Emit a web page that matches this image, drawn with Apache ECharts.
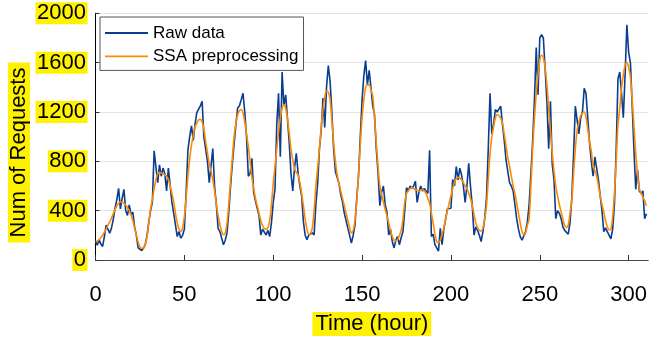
<!DOCTYPE html>
<html>
<head>
<meta charset="utf-8">
<script src="https://cdn.jsdelivr.net/npm/echarts@6/dist/echarts.min.js"></script>
<style>
html,body{margin:0;padding:0;background:#fff;}
#chart{width:650px;height:341px;}
</style>
</head>
<body>
<div id="chart"></div>
<script>
// Hourly request counts, hour 0 .. 310
var rawData = [
150,120,165,130,110,190,283,250,217,260,
330,420,490,581,415,500,573,400,362,446,
370,388,270,200,98,90,77,95,124,200,
309,400,467,885,880,626,771,679,745,700,
560,745,745,467,380,283,190,230,177,200,
250,547,890,1000,1088,969,1100,1194,1200,1250,
1286,996,1000,800,626,640,903,600,450,256,
230,217,124,160,220,388,600,780,943,1100,
1233,1250,1300,1352,1200,996,679,700,824,547,
480,420,362,203,250,240,203,240,190,300,
467,573,1100,1352,837,1524,1250,1339,1150,950,
700,560,750,864,705,600,520,309,200,164,
203,190,220,203,450,620,900,1050,1313,1075,
1400,1577,1450,1200,900,718,720,620,530,470,
380,320,256,200,137,200,283,500,679,1000,
1300,1497,1616,1420,1537,1400,1250,1180,900,705,
441,550,600,450,388,203,250,150,98,160,
190,124,180,230,400,586,560,600,580,600,
639,467,550,600,560,580,573,540,890,190,
210,124,110,71,256,124,250,330,415,400,
420,652,600,758,650,745,690,600,467,600,
784,600,441,203,269,240,200,150,230,335,
500,900,1352,1022,1100,1220,1200,1190,1247,1100,
969,811,800,626,600,560,450,335,250,190,
160,150,230,309,450,700,969,1300,1722,1339,
1801,1828,1800,1550,1286,903,1286,780,650,335,
400,380,335,269,240,230,209,300,500,850,
1247,1260,1022,1150,1200,1392,1350,1150,950,800,
679,837,850,650,520,400,230,260,230,220,
172,250,450,900,1471,1524,1350,1154,1500,1907,
1682,1600,1250,890,573,731,560,540,560,335,
375
];
var ssaData = [
150,155,165,180,200,225,250,280,310,340,
375,410,440,460,470,468,460,445,425,400,
365,320,260,200,145,105,95,100,130,190,
300,415,490,580,650,700,710,705,700,690,
680,650,600,540,470,380,300,250,230,260,
350,500,680,820,930,1010,1080,1110,1135,1140,
1120,1060,960,870,780,720,650,560,450,360,
290,230,205,220,300,450,650,830,1000,1110,
1180,1210,1220,1190,1120,1020,920,800,670,580,
500,440,380,320,280,255,250,260,320,450,
620,760,900,1040,1150,1230,1260,1230,1150,1030,
900,810,740,710,690,630,540,440,330,250,
210,215,260,400,600,750,900,1080,1220,1320,
1370,1360,1300,1130,950,800,690,620,560,500,
440,380,320,260,220,240,320,480,700,930,
1150,1300,1400,1420,1420,1380,1330,1150,950,760,
600,530,470,410,360,300,240,190,160,155,
165,200,240,330,470,540,560,580,585,580,
570,565,560,565,570,560,540,500,460,380,
300,210,150,140,160,210,260,330,400,460,
520,580,630,660,670,665,650,625,600,580,
540,500,440,370,300,260,240,235,260,330,
440,650,860,1000,1080,1150,1180,1170,1150,1110,
1020,930,830,760,680,600,540,460,380,300,
230,205,220,280,335,600,900,1150,1350,1500,
1620,1660,1640,1560,1420,1230,1050,870,720,600,
520,450,390,330,280,265,280,380,480,700,
900,1050,1120,1170,1190,1200,1160,1060,960,880,
760,720,680,600,520,450,390,320,270,245,
250,350,540,800,1100,1230,1400,1500,1580,1600,
1560,1480,1300,1080,860,700,580,540,510,480,
440
];
var seriesNames = ['Raw data', 'SSA preprocessing'];
var xTitle = 'Time (hour)';
var yTitle = 'Num of Requests';

function pairs(arr){ return arr.map(function(v,i){ return [i, v]; }); }

var FONT = '"Liberation Sans", Arial, Helvetica, sans-serif';
var YEL = '#fff200';
var BLUE = '#0a3d8f';
var ORANGE = '#ff8a00';

var chart = echarts.init(document.getElementById('chart'), null, {renderer:'canvas'});
chart.setOption({
  animation: false,
  backgroundColor: '#ffffff',
  grid: {left: 95.5, right: 0, top: 13.3, bottom: 75.3, containLabel: false},
  legend: {
    show: true,
    orient: 'vertical',
    left: 100, top: 17,
    padding: [6, 5, 4, 5],
    itemWidth: 43, itemHeight: 1.8, itemGap: 3.4,
    icon: 'rect',
    backgroundColor: '#ffffff',
    borderColor: '#555555', borderWidth: 1, borderRadius: 0,
    textStyle: {fontFamily: FONT, fontSize: 17, color: '#000', lineHeight: 20},
    data: [
      {name: seriesNames[0], itemStyle: {color: BLUE}},
      {name: seriesNames[1], itemStyle: {color: ORANGE}}
    ]
  },
  xAxis: {
    type: 'value', min: 0, max: 311, interval: 50,
    name: xTitle, nameLocation: 'middle', nameGap: 52,
    nameTextStyle: {fontFamily: FONT, fontSize: 22, color: '#000', backgroundColor: YEL, lineHeight: 24, padding: [0, 3]},
    axisLine: {show: true, lineStyle: {color: '#444', width: 1}},
    axisTick: {show: true, inside: true, length: 5, lineStyle: {color: '#333'}},
    axisLabel: {fontFamily: FONT, fontSize: 22, color: '#000', margin: 24, showMaxLabel: false},
    splitLine: {show: false}
  },
  yAxis: {
    type: 'value', min: 0, max: 2000, interval: 400,
    axisLine: {show: true, lineStyle: {color: '#000', width: 1}},
    axisTick: {show: true, inside: true, length: 4, lineStyle: {color: '#333'}},
    axisLabel: {fontFamily: FONT, fontSize: 22, color: '#000', margin: 8, backgroundColor: YEL,
                lineHeight: 18, padding: [4, 1.5, 0, 1.5],
                formatter: function(v){ return String(v); }},
    splitLine: {show: true, lineStyle: {color: '#e3e3e3', width: 1}}
  },
  graphic: [{
    type: 'text', x: 19, y: 152.5, rotation: Math.PI / 2,
    style: {text: yTitle, font: '22px ' + FONT, fill: '#000', align: 'center', verticalAlign: 'middle',
            backgroundColor: YEL, padding: [0, 5], lineHeight: 22}
  }],
  series: [
    {name: seriesNames[0], type: 'line', data: pairs(rawData), symbol: 'none', z: 2,
     lineStyle: {color: BLUE, width: 1.6}, itemStyle: {color: BLUE}},
    {name: seriesNames[1], type: 'line', data: pairs(ssaData), symbol: 'none', z: 3, smooth: 0.3,
     lineStyle: {color: ORANGE, width: 1.6}, itemStyle: {color: ORANGE}}
  ]
});
</script>
</body>
</html>
